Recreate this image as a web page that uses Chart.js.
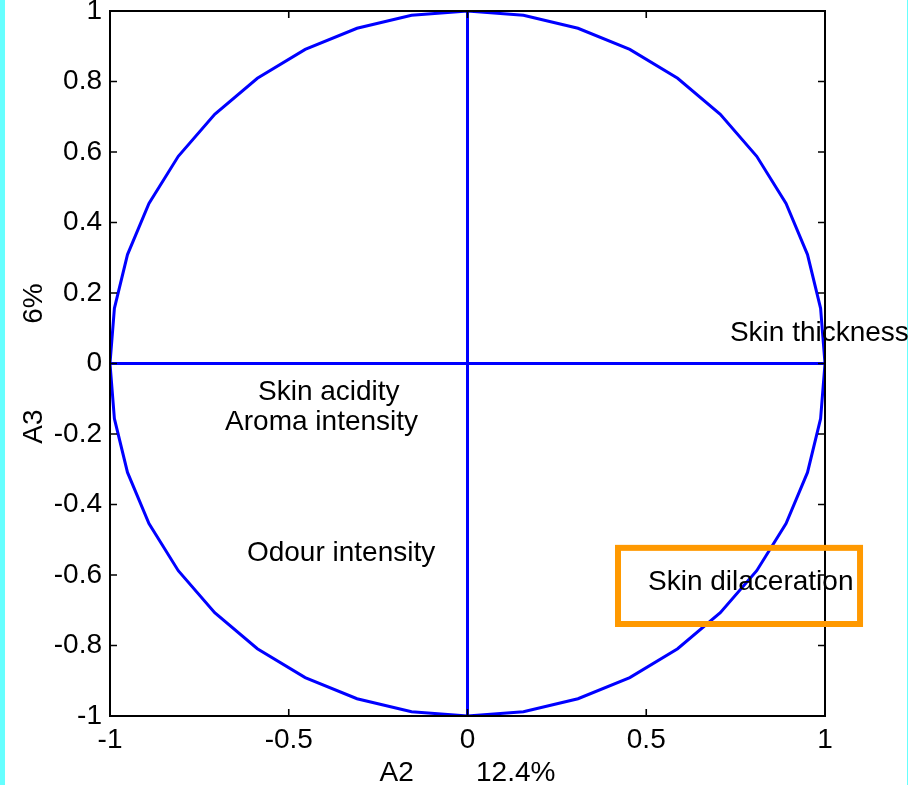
<!DOCTYPE html>
<html>
<head>
<meta charset="utf-8">
<script src="https://cdn.jsdelivr.net/npm/chart.js@4/dist/chart.umd.min.js"></script>
<style>
  html, body { margin: 0; padding: 0; background: #ffffff; }
  canvas { display: block; }
</style>
</head>
<body>
<canvas id="circle" width="908" height="785"></canvas>
<script>
// Variables projected on the A2 / A3 plane (correlation coordinates)
const variableNames = ['Skin thickness', 'Skin acidity', 'Aroma intensity', 'Odour intensity', 'Skin dilaceration'];
const variableA2 = [0.734, -0.586, -0.678, -0.617, 0.505];
const variableA3 = [0.085, -0.082, -0.167, -0.538, -0.621];

// Axis ticks and titles
const xTickValues = [-1, -0.5, 0, 0.5, 1];
const yTickValues = [-1, -0.8, -0.6, -0.4, -0.2, 0, 0.2, 0.4, 0.6, 0.8, 1];
const xAxisTitle = 'A2        12.4%';
const yAxisTitle = 'A3           6%';

// Highlight frame around one variable (A2 range, A3 range)
const highlightA2 = [0.421, 1.098];
const highlightA3 = [-0.739, -0.523];

// The unit correlation circle is drawn as a 40-sided polygon
const circleSegments = 40;
const unitCircle = [];
for (let k = 0; k <= circleSegments; k++) {
  const t = (2 * Math.PI * k) / circleSegments;
  unitCircle.push({ x: Math.cos(t), y: Math.sin(t) });
}
const horizontalAxis = [{ x: -1, y: 0 }, { x: 1, y: 0 }];
const verticalAxis = [{ x: 0, y: -1 }, { x: 0, y: 1 }];

const FONT = '"Liberation Sans", Arial, Helvetica, sans-serif';
const FONT_SIZE = 28;
const BLUE = '#0000ff';

const background = {
  id: 'background',
  beforeDraw(chart) {
    const { ctx, width, height } = chart;
    ctx.save();
    ctx.fillStyle = '#ffffff';
    ctx.fillRect(0, 0, width, height);
    ctx.fillStyle = '#66ffff';
    ctx.fillRect(0, 0, 5, height);
    ctx.fillRect(width - 1, 0, 1, height);
    ctx.restore();
  }
};

const frameAndLabels = {
  id: 'frameAndLabels',
  afterDatasetsDraw(chart) {
    const { ctx, chartArea: a, scales: { x, y } } = chart;
    ctx.save();
    // box and inward ticks
    ctx.strokeStyle = '#000000';
    ctx.lineWidth = 2;
    ctx.strokeRect(a.left, a.top, a.right - a.left, a.bottom - a.top);
    ctx.beginPath();
    const tick = 7;
    xTickValues.forEach(v => {
      const px = x.getPixelForValue(v);
      ctx.moveTo(px, a.bottom); ctx.lineTo(px, a.bottom - tick);
      ctx.moveTo(px, a.top); ctx.lineTo(px, a.top + tick);
    });
    yTickValues.forEach(v => {
      const py = y.getPixelForValue(v);
      ctx.moveTo(a.left, py); ctx.lineTo(a.left + tick, py);
      ctx.moveTo(a.right, py); ctx.lineTo(a.right - tick, py);
    });
    ctx.lineWidth = 1.6;
    ctx.stroke();

    // variable names
    ctx.font = FONT_SIZE + 'px ' + FONT;
    ctx.fillStyle = '#000000';
    ctx.textAlign = 'left';
    ctx.textBaseline = 'middle';
    variableNames.forEach((name, i) => {
      ctx.fillText(name, x.getPixelForValue(variableA2[i]), y.getPixelForValue(variableA3[i]));
    });

    // highlight frame
    const x0 = x.getPixelForValue(highlightA2[0]);
    const x1 = x.getPixelForValue(highlightA2[1]);
    const y0 = y.getPixelForValue(highlightA3[1]);
    const y1 = y.getPixelForValue(highlightA3[0]);
    ctx.strokeStyle = '#ff9900';
    ctx.lineWidth = 6;
    ctx.strokeRect(x0, y0, x1 - x0, y1 - y0);
    ctx.restore();
  }
};

const lineStyle = {
  showLine: true,
  borderColor: BLUE,
  borderWidth: 3,
  pointRadius: 0,
  pointHoverRadius: 0,
  fill: false,
  tension: 0
};

new Chart(document.getElementById('circle'), {
  type: 'scatter',
  data: {
    datasets: [
      Object.assign({ label: 'circle', data: unitCircle }, lineStyle),
      Object.assign({ label: 'A2 axis', data: horizontalAxis }, lineStyle),
      Object.assign({ label: 'A3 axis', data: verticalAxis }, lineStyle)
    ]
  },
  options: {
    responsive: false,
    devicePixelRatio: 1,
    animation: false,
    events: [],
    layout: { padding: { left: 0, top: 11, right: 83, bottom: 0 } },
    plugins: { legend: { display: false }, tooltip: { enabled: false } },
    scales: {
      x: {
        type: 'linear',
        position: 'bottom',
        min: -1,
        max: 1,
        grid: { display: false, drawTicks: false },
        border: { display: false },
        afterBuildTicks: s => { s.ticks = xTickValues.map(v => ({ value: v })); },
        ticks: {
          callback: v => String(v),
          color: '#000000',
          font: { family: FONT, size: FONT_SIZE },
          padding: 7,
          maxRotation: 0,
          autoSkip: false
        },
        title: {
          display: true,
          text: xAxisTitle,
          color: '#000000',
          font: { family: FONT, size: FONT_SIZE, lineHeight: '24px' },
          padding: { top: 0, bottom: 0 }
        },
        afterFit: s => { s.height = 69; s.paddingLeft = 0; s.paddingRight = 0; }
      },
      y: {
        type: 'linear',
        position: 'left',
        min: -1,
        max: 1,
        grid: { display: false, drawTicks: false },
        border: { display: false },
        afterBuildTicks: s => { s.ticks = yTickValues.map(v => ({ value: v })); },
        ticks: {
          callback: v => String(v),
          color: '#000000',
          font: { family: FONT, size: FONT_SIZE },
          padding: 8,
          autoSkip: false
        },
        title: {
          display: true,
          text: yAxisTitle,
          color: '#000000',
          font: { family: FONT, size: FONT_SIZE, lineHeight: '24px' },
          padding: { top: 22, bottom: 0 }
        },
        afterFit: s => { s.width = 110; s.paddingTop = 0; s.paddingBottom = 0; }
      }
    }
  },
  plugins: [background, frameAndLabels]
});
</script>
</body>
</html>
